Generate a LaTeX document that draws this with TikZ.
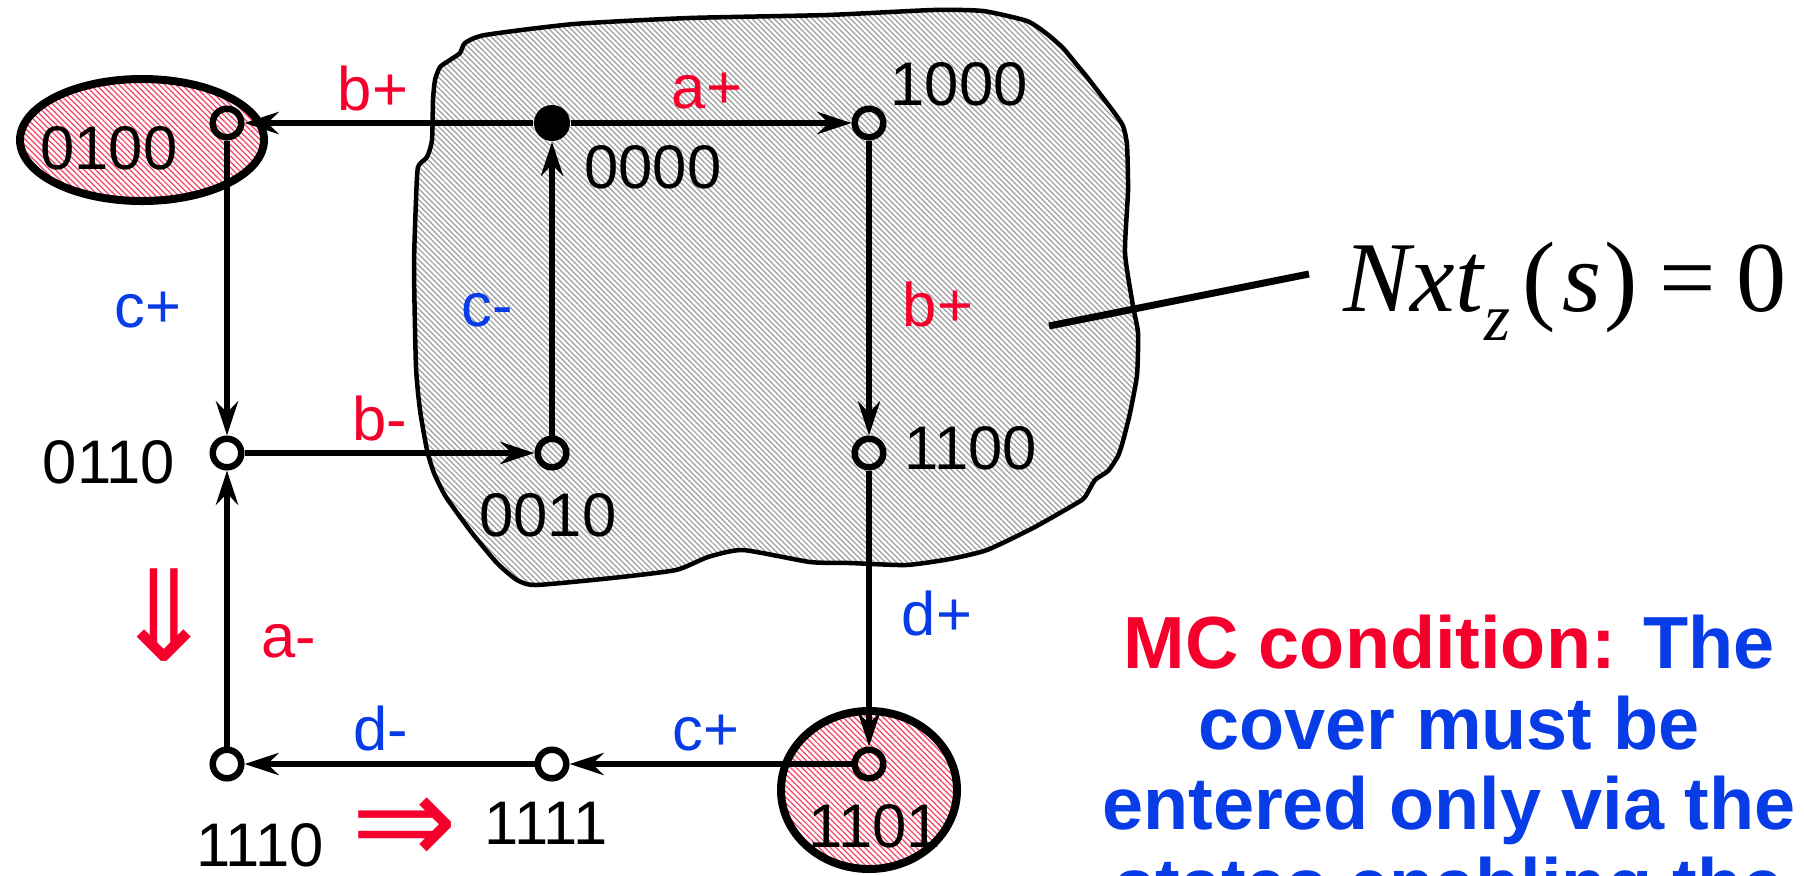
\documentclass[tikz,border=0pt]{standalone}
\usepackage{fontspec}
\setmainfont{Liberation Sans}
\newfontfamily\tms{Liberation Serif}
\newfontfamily\djv{DejaVu Sans}
\usetikzlibrary{arrows.meta,patterns.meta}
\definecolor{myred}{RGB}{245,0,45}
\definecolor{myblue}{RGB}{8,60,230}
\tikzset{
  st/.style={circle, draw, line width=0.065cm, minimum size=0.285cm, inner sep=0pt},
  dotst/.style={circle, fill, minimum size=0.36cm, inner sep=0pt},
  arr/.style={line width=0.065cm, -{Stealth[length=0.34cm,width=0.22cm,inset=0.11cm]}},
  lbl/.style={font=\fontsize{17.5}{20}\selectfont, inner sep=0pt},
  rl/.style={lbl, text=myred},
  bl/.style={lbl, text=myblue},
  mc/.style={font=\fontsize{21}{23}\selectfont\bfseries, text=myblue, anchor=base, inner sep=0pt},
  bigarr/.style={font=\djv\fontsize{36}{40}\selectfont, text=myred, inner sep=0pt},
  blobst/.style={line width=0.045cm, line join=round, preaction={fill=white},
    pattern={Lines[angle=-45,distance=1.1pt,line width=0.35pt]}, pattern color=black!38},
  pinkst/.style={line width=0.08cm, preaction={fill=white},
    pattern={Lines[angle=-45,distance=1.15pt,line width=0.35pt]}, pattern color=myred!75},
}
\begin{document}
\begin{tikzpicture}[x=0.01cm,y=-0.01cm]
\useasboundingbox (0,0) rectangle (1804,875);
% cover region
\draw[blobst] plot[smooth cycle,tension=0.35] coordinates {
(485,35) (574,24) (689,18) (827,15) (933,10) (983,11) (1027,21) (1047,34)
(1063,48) (1077,65) (1087,77) (1113,111) (1123,126) (1127,145) (1128,191)
(1125,253) (1133,306) (1138,333) (1137,375) (1130,413) (1123,441) (1118,456)
(1108,471) (1095,480) (1085,497) (1077,503) (1033,528) (987,550) (950,559)
(906,565) (850,563) (810,562) (743,550) (708,557) (676,570) (612,578)
(536,585) (517,580) (497,563) (472,533) (446,497) (434,473) (427,450)
(420,410) (416,367) (414,267) (416,200) (418,167) (427,157) (432,140)
(433,100) (435,80) (440,67) (450,60) (460,53) (465,43)};
% excitation regions
\draw[pinkst] (142,140) ellipse [x radius=122,y radius=61];
\draw[pinkst] (869,790) ellipse [x radius=88,y radius=79];
% states
\node[st] (s0100) at (227,123) {};
\node[dotst] (s0000) at (552,123) {};
\node[st] (s1000) at (869,123) {};
\node[st] (s0110) at (227,453) {};
\node[st] (s0010) at (552,453) {};
\node[st] (s1100) at (869,453) {};
\node[st] (s1110) at (227,764) {};
\node[st] (s1111) at (552,764) {};
\node[st] (s1101) at (869,764) {};
% transitions
\draw[arr] (s0000) -- (s0100);
\draw[arr] (s0000) -- (s1000);
\draw[arr] (s0010) -- (s0000);
\draw[arr] (s1000) -- (s1100);
\draw[arr] (s0100) -- (s0110);
\draw[arr] (s0110) -- (s0010);
\draw[arr] (s1100) -- (s1101);
\draw[arr] (s1101) -- (s1111);
\draw[arr] (s1111) -- (s1110);
\draw[arr] (s1110) -- (s0110);
% state codes
\node[lbl] (t0100) at (109,148) {0100};
\node[lbl] (t0000) at (653,167) {0000};
\node[lbl] (t1000) at (959,84) {1000};
\node[lbl] (t1100) at (971,448) {1100};
\node[lbl] (t0110) at (109,462) {0110};
\node[lbl] (t0010) at (548,515) {0010};
\node[lbl] (t1110) at (260,845) {1110};
\node[lbl] (t1111) at (546,823) {1111};
\node[lbl] (t1101) at (875,826) {1101};
% transition labels
\node[rl] (lb1) at (373,88) {b+};
\node[rl] (la1) at (707,91) {a+};
\node[bl] (lc1) at (148,310) {c+};
\node[bl] (lc2) at (487,310) {c-};
\node[rl] (lb2) at (938,304) {b+};
\node[rl] (lb3) at (380,418) {b-};
\node[bl] (ld1) at (937,613) {d+};
\node[rl] (la2) at (289,641) {a-};
\node[bl] (ld2) at (381,728) {d-};
\node[bl] (lc3) at (706,733) {c+};
% implication arrows
\node[bigarr,rotate=-90] (imp1) at (158,615) {⇒};
\node[bigarr] (imp2) at (405,831) {⇒};
% Nxt label
\coordinate (la) at (1049,326);
\coordinate (lbb) at (1309,274);
\draw[line width=0.07cm] (la) -- (lbb);
\node[anchor=base west, inner sep=0pt, font=\tms\fontsize{28.5}{34}\selectfont] (nxt) at (1343,311)
  {\textit{Nxt}\raisebox{-0.29em}{\fontsize{19}{20}\selectfont\textit{z}}\hspace{0.12em}(\hspace{0.06em}\textit{s}\hspace{0.03em})\hspace{0.22em}=\hspace{0.2em}0};
% MC condition text
\node[mc] (mc1) at (1449,668) {{\color{myred}MC condition:} The};
\node[mc] (mc2) at (1449,749) {cover must be};
\node[mc] (mc3) at (1449,829) {entered only via the};
\node[mc] (mc4) at (1449,910) {states enabling the};
\end{tikzpicture}
\end{document}
